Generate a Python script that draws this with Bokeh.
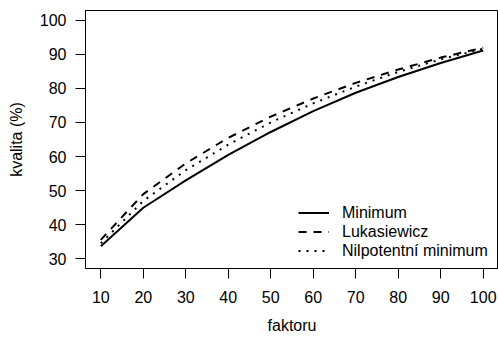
from bokeh.plotting import figure
from bokeh.models import Range1d, Legend, LegendItem, FixedTicker, Title
from bokeh.embed import file_html
from bokeh.resources import INLINE

faktor = [10, 20, 30, 40, 50, 60, 70, 80, 90, 100]
minimum = [33.7, 45.0, 53.0, 60.5, 67.2, 73.3, 78.7, 83.3, 87.4, 91.1]
lukasiewicz = [35.6, 49.0, 58.0, 65.5, 71.7, 77.0, 81.6, 85.5, 89.0, 91.9]
nilpotent = [34.6, 47.0, 56.0, 63.5, 70.0, 75.6, 80.5, 84.8, 88.5, 91.6]
x_ticks = [10, 20, 30, 40, 50, 60, 70, 80, 90, 100]
y_ticks = [30, 40, 50, 60, 70, 80, 90, 100]

FONT = "Liberation Sans"
FS = "16px"

p = figure(width=498, height=347, output_backend="svg", toolbar_location=None,
           x_range=Range1d(6.4, 103.6), y_range=Range1d(27.2, 102.8),
           min_border_left=85, min_border_right=0, min_border_top=10,
           min_border_bottom=79)
p.background_fill_color = "white"
p.border_fill_color = "white"
p.outline_line_color = "black"
p.outline_line_width = 1
p.grid.visible = False

for ax in (p.xaxis[0], p.yaxis[0]):
    ax.axis_line_color = "black"
    ax.major_tick_line_color = "black"
    ax.minor_tick_line_color = None
    ax.major_tick_in = 0
    ax.major_tick_out = 10
    ax.major_label_text_font = FONT
    ax.major_label_text_font_size = FS
    ax.major_label_text_color = "black"
    ax.axis_label_text_font = FONT
    ax.axis_label_text_font_size = FS
    ax.axis_label_text_font_style = "normal"
    ax.axis_label_text_color = "black"

p.xaxis.ticker = FixedTicker(ticks=x_ticks)
p.yaxis.ticker = FixedTicker(ticks=y_ticks)
p.yaxis.axis_label = "kvalita (%)"
p.xaxis.major_label_standoff = 12
p.yaxis.major_label_standoff = 9
p.yaxis.axis_label_standoff = 12
p.yaxis.major_label_orientation = "horizontal"

xtitle = Title(text="faktoru", align="center", text_font=FONT, text_font_size=FS,
               text_font_style="normal", text_color="black", standoff=18)
p.add_layout(xtitle, "below")

r1 = p.line(faktor, minimum, line_color="black", line_width=2)
r2 = p.line(faktor, lukasiewicz, line_color="black", line_width=2, line_dash="8 7")
r3 = p.line(faktor, nilpotent, line_color="black", line_width=2, line_dash="2 6")

legend = Legend(items=[LegendItem(label="Minimum", renderers=[r1]),
                       LegendItem(label="Lukasiewicz", renderers=[r2]),
                       LegendItem(label="Nilpotentní minimum", renderers=[r3])],
                location=(213, 8))
legend.border_line_color = None
legend.background_fill_alpha = 0
legend.padding = 0
legend.margin = 0
legend.spacing = 0
legend.glyph_width = 31
legend.glyph_height = 19
legend.label_height = 19
legend.label_standoff = 13
legend.label_text_font = FONT
legend.label_text_font_size = FS
legend.label_text_color = "black"
p.add_layout(legend, "center")

open("out.html", "w").write(file_html(p, INLINE))
